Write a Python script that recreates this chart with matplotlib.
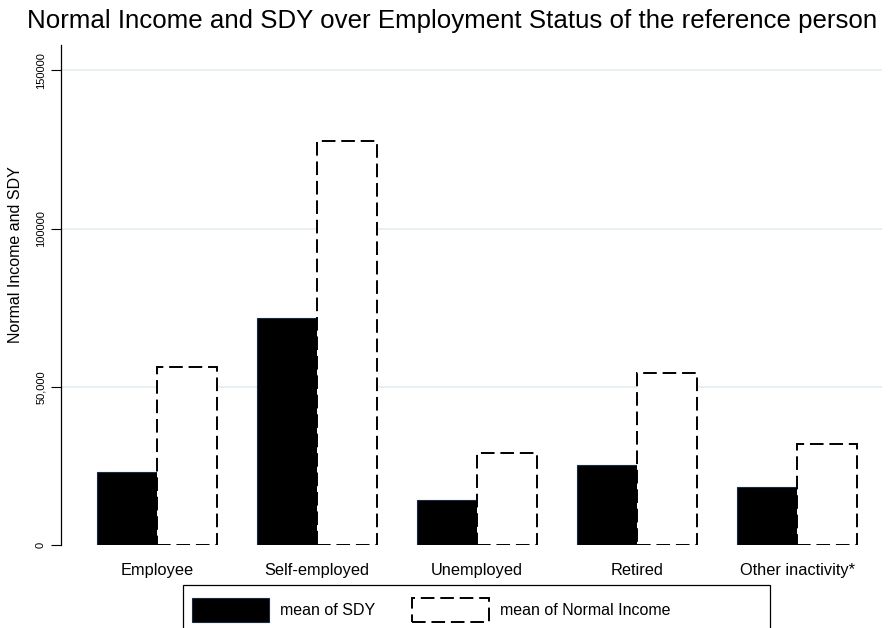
import matplotlib
matplotlib.use("Agg")
import matplotlib.pyplot as plt
from matplotlib.patches import Rectangle, Patch
import numpy as np

plt.rcParams["font.family"] = ["Liberation Sans", "DejaVu Sans"]

# values
status = ["Employee", "Self-employed", "Unemployed", "Retired", "Other inactivity*"]
mean_sdy = [22950, 71700, 14200, 25200, 18200]
mean_normal_income = [56300, 127800, 29100, 54300, 31900]
ytick_vals = [0, 50000, 100000, 150000]
ytick_labels = ["0", "50,000", "100000", "150000"]

W, H = 889, 628
fig = plt.figure(figsize=(W / 100, H / 100), dpi=100)
ax = fig.add_axes([61 / W, 1 - 545 / H, (882 - 61) / W, (545 - 45) / H])

x = np.arange(len(status))
bw = 0.375
ax.bar(x - bw / 2, mean_sdy, width=bw, color="black", edgecolor="#1a2a40",
       linewidth=0.8, zorder=3)
ax.bar(x + bw / 2, mean_normal_income, width=bw, facecolor="white",
       edgecolor="black", linewidth=1.4, linestyle=(0, (7, 3)), zorder=3)

ax.set_xlim(-0.6, 4.53)
ax.set_ylim(0, 158000)
ax.set_yticks(ytick_vals)
ax.set_yticklabels(ytick_labels, rotation=90, va="center", fontsize=8)
ax.set_xticks(x)
ax.set_xticklabels(status, fontsize=11.8)
ax.tick_params(axis="x", length=0, pad=13)
ax.tick_params(axis="y", length=7, width=0.8, pad=4)

for v in ytick_vals[1:]:
    ax.axhline(v, color="#e4eef2", linewidth=1.2, zorder=1)

for side in ["top", "right", "bottom"]:
    ax.spines[side].set_visible(False)
ax.spines["left"].set_linewidth(0.9)

ax.set_ylabel("Normal Income and SDY", fontsize=11.5)
ax.yaxis.set_label_coords(-38 / (882 - 61), (545 - 255) / (545 - 45))

fig.text(27 / W, 1 - 21 / H, "Normal Income and SDY over Employment Status of the reference person",
         fontsize=18.6, va="center", ha="left")

# legend frame and entries
fig.patches.append(Rectangle((183 / W, -0.05), (770 - 183) / W, 0.05 + 1 - 585 / H,
                             transform=fig.transFigure, facecolor="white",
                             edgecolor="black", linewidth=0.9))
handles = [Patch(facecolor="black", edgecolor="#1a2a40", linewidth=0.8),
           Patch(facecolor="white", edgecolor="black", linewidth=1.4, linestyle=(0, (7, 3)))]
fig.legend(handles, ["mean of SDY", "mean of Normal Income"], loc="center left",
           bbox_to_anchor=(181 / W, 1 - 610 / H), ncol=2, frameon=False, fontsize=11.5,
           handlelength=4.8, handleheight=1.9, handletextpad=0.7, columnspacing=2.3,
           borderpad=0.2)

fig.savefig("out.png", dpi=100)
